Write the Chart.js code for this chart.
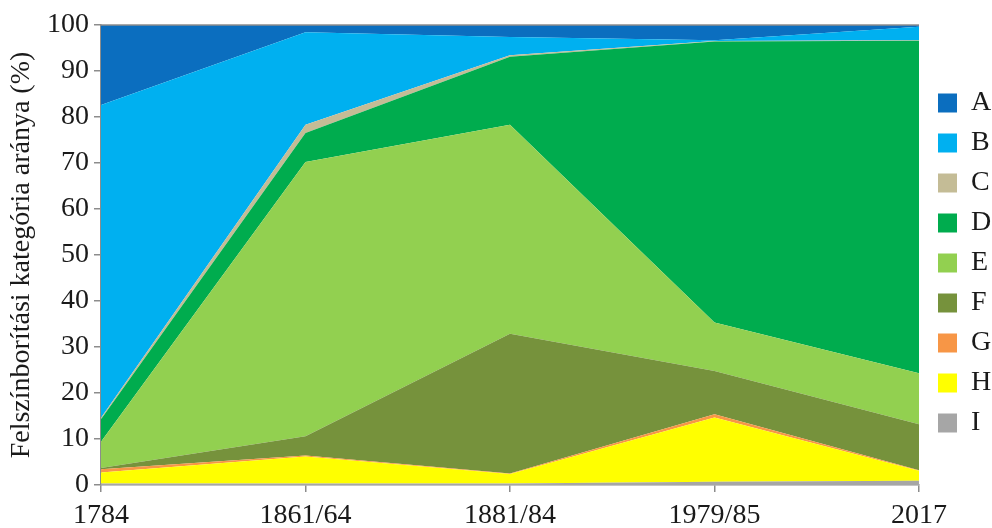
<!DOCTYPE html>
<html>
<head>
<meta charset="utf-8">
<script src="https://cdn.jsdelivr.net/npm/chart.js@4.4.1/dist/chart.umd.min.js"></script>
<style>
  html, body { margin: 0; padding: 0; background: #ffffff; }
  #wrap { position: relative; width: 992px; height: 528px; }
</style>
</head>
<body>
<div id="wrap"><canvas id="c" width="992" height="528"></canvas></div>
<script>
// Survey periods
const periods = ['1784', '1861/64', '1881/84', '1979/85', '2017'];

// Share of each land-cover category (%) per period
const catA = [17.4, 1.6, 2.6, 3.3, 0.4];
const catB = [68.0, 20.1, 4.0, 0.2, 2.9];
const catC = [0.3, 1.8, 0.3, 0.1, 0.1];
const catD = [4.9, 6.3, 14.8, 61.1, 72.3];
const catE = [5.7, 59.6, 45.4, 10.5, 11.1];
const catF = [0.3, 4.2, 30.4, 9.4, 10.0];
const catG = [0.7, 0.2, 0.1, 0.7, 0.1];
const catH = [2.4, 5.9, 2.1, 14.0, 2.2];
const catI = [0.3, 0.3, 0.3, 0.7, 0.9];

const yTicks = [0, 10, 20, 30, 40, 50, 60, 70, 80, 90, 100];

const serif = "'Liberation Serif', 'Times New Roman', serif";
const axisGray = '#8c8c8c';
const textColor = '#1a1a1a';

// Stacked bottom-up: I at the base, A on top
const layers = [
  { label: 'I', data: catI, color: '#a6a6a6' },
  { label: 'H', data: catH, color: '#ffff00' },
  { label: 'G', data: catG, color: '#f79646' },
  { label: 'F', data: catF, color: '#76923c' },
  { label: 'E', data: catE, color: '#92d050' },
  { label: 'D', data: catD, color: '#00ac4e' },
  { label: 'C', data: catC, color: '#c4bc96' },
  { label: 'B', data: catB, color: '#00b0f0' },
  { label: 'A', data: catA, color: '#0b6ebf' }
];

const datasets = layers.map((l, i) => ({
  label: l.label,
  data: l.data,
  backgroundColor: l.color,
  borderColor: l.color,
  borderWidth: 0,
  pointRadius: 0,
  pointHoverRadius: 0,
  tension: 0,
  fill: i === 0 ? 'origin' : '-1'
}));

// Thin frame line along the top edge of the plot
const topFrame = {
  id: 'topFrame',
  afterDatasetsDraw(chart) {
    const { ctx, chartArea } = chart;
    ctx.save();
    ctx.strokeStyle = axisGray;
    ctx.lineWidth = 1.5;
    ctx.beginPath();
    ctx.moveTo(chartArea.left, chartArea.top);
    ctx.lineTo(chartArea.right, chartArea.top);
    ctx.stroke();
    ctx.restore();
  }
};

new Chart(document.getElementById('c'), {
  type: 'line',
  data: { labels: periods, datasets },
  plugins: [topFrame],
  options: {
    responsive: false,
    animation: false,
    layout: { padding: { top: 25, right: 0, bottom: 0, left: 0 } },
    plugins: {
      tooltip: { enabled: false },
      legend: {
        position: 'right',
        fullSize: false,
        reverse: true,
        maxWidth: 66,
        title: { display: true, text: '', padding: 2, font: { size: 10 } },
        labels: {
          boxWidth: 19,
          boxHeight: 19,
          padding: 12,
          color: textColor,
          font: { family: serif, size: 28 }
        }
      }
    },
    scales: {
      x: {
        offset: false,
        grid: { display: true, drawOnChartArea: false, tickLength: 7, color: axisGray, lineWidth: 1.5 },
        border: { display: true, color: axisGray, width: 1.5 },
        ticks: { color: textColor, padding: 7, maxRotation: 0, autoSkip: false, font: { family: serif, size: 28 } },
        afterFit(scale) { scale.height = 43; }
      },
      y: {
        stacked: true,
        min: 0,
        max: 100,
        afterBuildTicks(scale) { scale.ticks = yTicks.map(v => ({ value: v })); },
        grid: { display: true, drawOnChartArea: false, tickLength: 7, color: axisGray, lineWidth: 1.5 },
        border: { display: true, color: axisGray, width: 1.5 },
        ticks: { color: textColor, padding: 5, font: { family: serif, size: 28 } },
        title: {
          display: true,
          text: 'Felszínborítási kategória aránya (%)',
          color: textColor,
          padding: { top: 5, bottom: 0 },
          font: { family: serif, size: 28 }
        },
        afterFit(scale) { scale.width = 101; }
      },
      // Narrow spacer between the plot and the legend
      gap: {
        type: 'linear',
        position: 'right',
        display: true,
        grid: { display: false },
        border: { display: false },
        ticks: { display: false },
        afterFit(scale) { scale.width = 7; }
      }
    }
  }
});
</script>
</body>
</html>
